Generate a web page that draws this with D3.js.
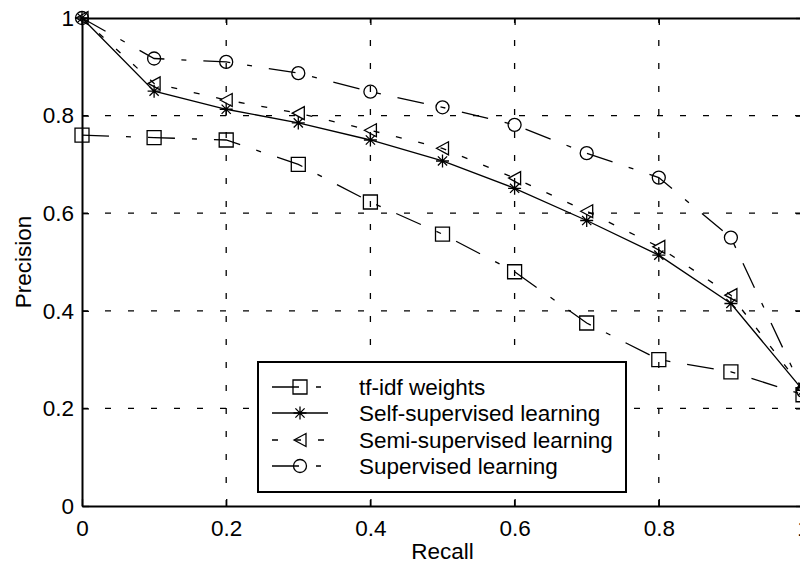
<!DOCTYPE html>
<html>
<head>
<meta charset="utf-8">
<script src="https://cdn.jsdelivr.net/npm/d3@7"></script>
<style>
  html, body { margin: 0; padding: 0; background: #fff; }
  svg { display: block; font-family: "Liberation Sans", Arial, sans-serif; }
</style>
</head>
<body>
<div id="chart"></div>
<script>
const recall = [0, 0.1, 0.2, 0.3, 0.4, 0.5, 0.6, 0.7, 0.8, 0.9, 1];
const tfidf = [0.76, 0.755, 0.75, 0.7, 0.623, 0.557, 0.48, 0.375, 0.3, 0.275, 0.228];
const selfSupervised = [1, 0.85, 0.813, 0.785, 0.75, 0.707, 0.651, 0.585, 0.514, 0.415, 0.237];
const semiSupervised = [1, 0.866, 0.832, 0.805, 0.77, 0.733, 0.672, 0.604, 0.531, 0.432, 0.24];
const supervised = [1, 0.917, 0.91, 0.887, 0.849, 0.817, 0.781, 0.723, 0.673, 0.55, 0.236];

const seriesNames = [
  "tf-idf weights",
  "Self-supervised learning",
  "Semi-supervised learning",
  "Supervised learning",
];
const xTicks = [0, 0.2, 0.4, 0.6, 0.8, 1];
const yTicks = [0, 0.2, 0.4, 0.6, 0.8, 1];
const xTitle = "Recall";
const yTitle = "Precision";

const width = 800;
const height = 568;
const marginLeft = 82;
const marginTop = 18;
const plotRight = 803;
const plotBottom = 506;
const fontSize = 22.5;

// matlab-ish line styles
const dash = {
  dashdot: "27,17,5,17",
  dotted: "6,17",
  solid: null,
};

const series = [
  { name: seriesNames[0], values: tfidf, style: "dashdot", marker: "square" },
  { name: seriesNames[1], values: selfSupervised, style: "solid", marker: "star" },
  { name: seriesNames[2], values: semiSupervised, style: "dotted", marker: "triangle" },
  { name: seriesNames[3], values: supervised, style: "dashdot", marker: "circle" },
];

const x = d3.scaleLinear().domain([0, 1]).range([marginLeft, plotRight]);
const y = d3.scaleLinear().domain([0, 1]).range([plotBottom, marginTop]);

const markerPath = {
  square: "M-7,-7H7V7H-7Z",
  circle: "M6.5,0A6.5,6.5 0 1,1 -6.5,0A6.5,6.5 0 1,1 6.5,0Z",
  triangle: "M-6,0L6,-6.5L6,6.5Z",
  star: "M-6.5,0H6.5M0,-6.5V6.5M-4.6,-4.6L4.6,4.6M-4.6,4.6L4.6,-4.6",
};

const svg = d3
  .select("#chart")
  .append("svg")
  .attr("width", width)
  .attr("height", height)
  .attr("viewBox", [0, 0, width, height]);

svg.append("rect").attr("width", width).attr("height", height).attr("fill", "#fff");

// grid
const gGrid = svg.append("g").attr("class", "grid-g");
gGrid
  .selectAll(".grid-x")
  .data(xTicks.filter((d) => d > 0))
  .join("line")
  .attr("class", "grid-x")
  .attr("x1", (d) => x(d))
  .attr("x2", (d) => x(d))
  .attr("y1", y(0))
  .attr("y2", y(1))
  .attr("stroke", "#000")
  .attr("stroke-width", 1.3)
  .attr("stroke-dasharray", dash.dotted);
gGrid
  .selectAll(".grid-y")
  .data(yTicks.filter((d) => d > 0 && d < 1))
  .join("line")
  .attr("class", "grid-y")
  .attr("x1", x(0))
  .attr("x2", x(1))
  .attr("y1", (d) => y(d))
  .attr("y2", (d) => y(d))
  .attr("stroke", "#000")
  .attr("stroke-width", 1.3)
  .attr("stroke-dasharray", dash.dotted);

// axes
const styleAxis = (g) => {
  g.attr("font-size", fontSize).attr("font-family", null);
  g.select(".domain").attr("stroke-width", 2);
  g.selectAll(".tick line").attr("stroke-width", 1.3);
  g.selectAll(".tick text").attr("fill", "#000");
};

svg
  .append("g")
  .attr("transform", `translate(0,${y(0)})`)
  .call(
    d3
      .axisBottom(x)
      .tickValues(xTicks)
      .tickFormat(d3.format("~g"))
      .tickSize(-7)
      .tickSizeOuter(0)
      .tickPadding(14)
  )
  .call(styleAxis);

svg
  .append("g")
  .attr("transform", `translate(${x(0)},0)`)
  .call(
    d3
      .axisLeft(y)
      .tickValues(yTicks)
      .tickFormat(d3.format("~g"))
      .tickSize(-7)
      .tickSizeOuter(0)
      .tickPadding(8)
  )
  .call(styleAxis);

svg
  .append("g")
  .attr("transform", `translate(0,${y(1)})`)
  .call(d3.axisTop(x).tickValues(xTicks).tickFormat("").tickSize(-7).tickSizeOuter(0))
  .call(styleAxis);

svg
  .append("g")
  .attr("transform", `translate(${x(1)},0)`)
  .call(d3.axisRight(y).tickValues(yTicks).tickFormat("").tickSize(-7).tickSizeOuter(0))
  .call(styleAxis);

svg
  .append("text")
  .attr("class", "axis-title")
  .attr("x", x(0.5))
  .attr("y", 559)
  .attr("text-anchor", "middle")
  .attr("font-size", fontSize)
  .text(xTitle);

svg
  .append("text")
  .attr("class", "axis-title")
  .attr("transform", `translate(31,${(y(0) + y(1)) / 2})rotate(-90)`)
  .attr("text-anchor", "middle")
  .attr("font-size", fontSize)
  .text(yTitle);

// lines + markers
const line = d3
  .line()
  .x((d, i) => x(recall[i]))
  .y((d) => y(d));

const gSeries = svg
  .selectAll(".series-g")
  .data(series)
  .join("g")
  .attr("class", "series-g");

gSeries
  .append("path")
  .attr("d", (d) => line(d.values))
  .attr("fill", "none")
  .attr("stroke", "#000")
  .attr("stroke-width", 1.3)
  .attr("stroke-dasharray", (d) => dash[d.style]);

gSeries
  .selectAll(".marker")
  .data((d) => d.values.map((v, i) => ({ v, i, marker: d.marker })))
  .join("path")
  .attr("class", "marker")
  .attr("transform", (d) => `translate(${x(recall[d.i])},${y(d.v)})`)
  .attr("d", (d) => markerPath[d.marker])
  .attr("fill", "none")
  .attr("stroke", "#000")
  .attr("stroke-width", 1.3);

// legend
const legend = { x0: 258, y0: 362, x1: 626, y1: 492 };
const legendRows = [387, 413, 440, 466];

const gLegend = svg.append("g").attr("class", "legend-g");
gLegend
  .append("rect")
  .attr("x", legend.x0)
  .attr("y", legend.y0)
  .attr("width", legend.x1 - legend.x0)
  .attr("height", legend.y1 - legend.y0)
  .attr("fill", "#fff")
  .attr("stroke", "#000")
  .attr("stroke-width", 2);

const legendItem = gLegend
  .selectAll(".legend-item")
  .data(series)
  .join("g")
  .attr("class", "legend-item")
  .attr("transform", (d, i) => `translate(0,${legendRows[i]})`);

legendItem
  .append("line")
  .attr("x1", 272)
  .attr("x2", 328)
  .attr("stroke", "#000")
  .attr("stroke-width", 1.3)
  .attr("stroke-dasharray", (d) => dash[d.style]);

legendItem
  .append("path")
  .attr("transform", "translate(300,0)")
  .attr("d", (d) => markerPath[d.marker])
  .attr("fill", "none")
  .attr("stroke", "#000")
  .attr("stroke-width", 1.3);

legendItem
  .append("text")
  .attr("x", 359)
  .attr("dy", "0.35em")
  .attr("font-size", fontSize)
  .text((d) => d.name);
</script>
</body>
</html>
